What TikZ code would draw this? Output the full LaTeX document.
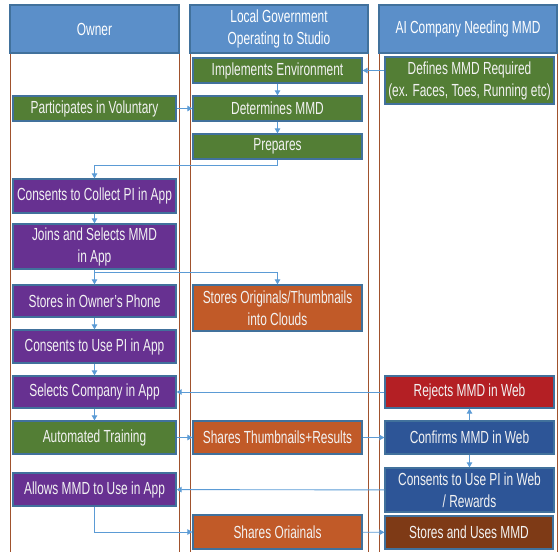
\documentclass[tikz,border=0pt]{standalone}
\usepackage{fontspec}
\setmainfont[FakeStretch=0.68]{Liberation Sans}
\usetikzlibrary{arrows.meta}
\definecolor{hdrfill}{RGB}{91,143,201}
\definecolor{hdrline}{RGB}{65,113,156}
\definecolor{boxline}{RGB}{65,113,156}
\definecolor{lanebrown}{RGB}{160,82,45}
\definecolor{gfill}{RGB}{83,126,53}
\definecolor{pfill}{RGB}{103,49,145}
\definecolor{ofill}{RGB}{193,90,40}
\definecolor{rfill}{RGB}{180,31,36}
\definecolor{bfill}{RGB}{45,85,151}
\definecolor{brfill}{RGB}{126,58,22}
\definecolor{arrcol}{RGB}{91,155,213}
\tikzset{
  lane/.style={draw=lanebrown, line width=1pt},
  header/.style={draw=hdrline, fill=hdrfill, line width=1.5pt, text=white, align=center, inner sep=0pt, minimum width=169pt, minimum height=48pt},
  box/.style={draw=boxline, line width=1.3pt, text=white!95!black, align=center, inner sep=0pt},
  obox/.style={box, minimum width=163pt},
  mbox/.style={box, minimum width=169pt},
  rbox/.style={box, minimum width=169pt},
  arr/.style={draw=arrcol, line width=0.9pt, -{Triangle[length=5pt,width=5.5pt]}}
}
\begin{document}
\begin{tikzpicture}[x=1pt,y=-1pt, font=\fontsize{17.5}{22}\selectfont]
\useasboundingbox (0,0) rectangle (559,551);
\clip (0,0) rectangle (559,551);
% lanes
\draw[lane] (10,53) rectangle (179,570);
\draw[lane] (190,53) rectangle (368,570);
\draw[lane] (379,53) rectangle (557,570);
% headers
\node[header] (hOwner) at (94.5,29) {Owner};
\node[header, minimum width=178pt] (hGov) at (279,29) {Local Government\\Operating to Studio};
\node[header, minimum width=178pt] (hAI) at (468,29) {AI Company Needing MMD};
% owner lane
\node[obox, fill=gfill, minimum height=25pt] (p1) at (94.5,108.5) {Participates in Voluntary};
\node[obox, fill=pfill, minimum height=34pt] (c1) at (94.5,196) {Consents to Collect PI in App};
\node[obox, fill=pfill, minimum height=45pt] (j1) at (94.5,246.5) {Joins and Selects MMD\\in App};
\node[obox, fill=pfill, minimum height=32pt] (s1) at (94.5,301) {Stores in Owner’s Phone};
\node[obox, fill=pfill, minimum height=33pt] (c2) at (94.5,346.5) {Consents to Use PI in App};
\node[obox, fill=pfill, minimum height=32pt] (sc) at (94.5,392) {Selects Company in App};
\node[obox, fill=gfill, minimum height=33pt] (at) at (94.5,437.5) {Automated Training};
\node[obox, fill=pfill, minimum height=33pt] (al) at (94.5,489.5) {Allows MMD to Use in App};
% middle lane
\node[mbox, fill=gfill, minimum height=25pt] (ie) at (277.5,70.5) {Implements Environment};
\node[mbox, fill=gfill, minimum height=25pt] (dm) at (277.5,108.5) {Determines MMD};
\node[mbox, fill=gfill, minimum height=25pt] (pr) at (277.5,146.5) {Prepares};
\node[mbox, fill=ofill, minimum height=46pt] (so) at (277.5,308) {Stores Originals/Thumbnails\\into Clouds};
\node[mbox, fill=ofill, minimum height=33pt] (st) at (277.5,437.5) {Shares Thumbnails+Results};
\node[mbox, fill=ofill, minimum height=34pt] (sh) at (277.5,532) {Shares Oriainals};
% right lane
\node[rbox, fill=gfill, minimum height=47pt] (dd) at (469.5,80.5) {Defines MMD Required\\(ex. Faces, Toes, Running etc)};
\node[rbox, fill=rfill, minimum height=32pt] (rj) at (469.5,392) {Rejects MMD in Web};
\node[rbox, fill=bfill, minimum height=33pt] (cf) at (469.5,437.5) {Confirms MMD in Web};
\node[rbox, fill=bfill, minimum height=44pt] (cw) at (469.5,490) {Consents to Use PI in Web\\/ Rewards};
\node[rbox, fill=brfill, minimum height=33pt, minimum width=168pt] (su) at (469,532.5) {Stores and Uses MMD};
% connectors
\draw[arr] (p1.east) -- (dm.west);
\draw[arr] (ie.east -| dd.west) -- (ie.east);
\draw[arr] (ie) -- (dm);
\draw[arr] (dm) -- (pr);
\draw[arr] (pr.south) -- ++(0,6) -| (c1.north);
\draw[arr] (c1) -- (j1);
\draw[arr] (j1) -- (s1);
\draw[arr] (j1.south) -- ++(0,3) -| (so.north);
\draw[arr] (s1) -- (c2);
\draw[arr] (c2) -- (sc);
\draw[arr] (rj) -- (sc);
\draw[arr] (sc) -- (at);
\draw[arr] (at) -- (st);
\draw[arr] (st) -- (cf);
\draw[arr] (cf) -- (rj);
\draw[arr] (cf) -- (cw);
\draw[arr] (cw) -- (al);
\draw[arr] (al.south) |- (sh.west);
\draw[arr] (sh) -- (su);
\end{tikzpicture}
\end{document}
